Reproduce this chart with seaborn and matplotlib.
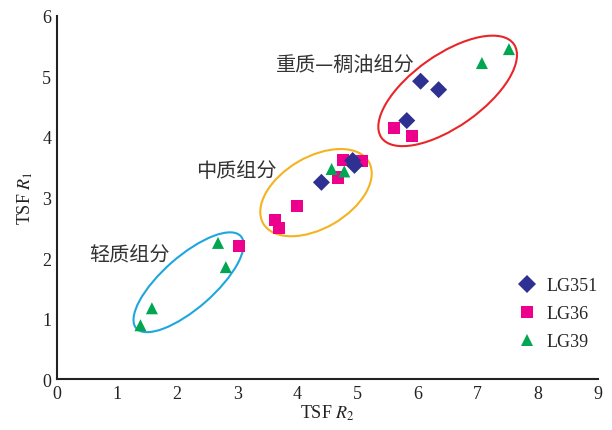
import numpy as np
import pandas as pd
import matplotlib
matplotlib.use("Agg")
import matplotlib.pyplot as plt
from matplotlib.patches import Ellipse
import seaborn as sns

# ---- data ----
series_names = ["LG351", "LG36", "LG39"]
lg351_x = [6.05, 6.35, 5.82, 4.40, 4.92, 4.95]
lg351_y = [4.92, 4.78, 4.27, 3.25, 3.61, 3.53]
lg36_x = [3.03, 4.76, 5.07, 4.67, 4.00, 3.62, 3.70, 5.61, 5.91]
lg36_y = [2.20, 3.62, 3.60, 3.33, 2.86, 2.63, 2.49, 4.15, 4.02]
lg39_x = [2.68, 2.81, 1.58, 1.39, 4.57, 4.78, 7.07, 7.52]
lg39_y = [2.25, 1.85, 1.17, 0.89, 3.47, 3.43, 5.22, 5.45]

group_labels = ["轻质组分", "中质组分", "重质—稠油组分"]
x_ticks = [0, 1, 2, 3, 4, 5, 6, 7, 8, 9]
y_ticks = [0, 1, 2, 3, 4, 5, 6]

# ---- frame (draw order: squares, diamonds, triangles) ----
df = pd.concat([
    pd.DataFrame({"x": lg36_x, "y": lg36_y, "s": "LG36"}),
    pd.DataFrame({"x": lg351_x, "y": lg351_y, "s": "LG351"}),
    pd.DataFrame({"x": lg39_x, "y": lg39_y, "s": "LG39"}),
], ignore_index=True)

sns.set_style("white")
plt.rcParams["font.family"] = ["Liberation Serif", "DejaVu Serif"]
plt.rcParams["mathtext.fontset"] = "stix"

fig = plt.figure(figsize=(6.12, 4.31), dpi=100)
ax = fig.add_axes([0.093, 0.118, 0.884, 0.843])

palette = {"LG351": "#2e3192", "LG36": "#ec008c", "LG39": "#00a651"}
markers = {"LG351": "D", "LG36": "s", "LG39": "^"}

sns.scatterplot(data=df, x="x", y="y", hue="s", style="s",
                hue_order=series_names, style_order=series_names,
                palette=palette, markers=markers, s=75,
                edgecolor="none", linewidth=0, ax=ax, zorder=3)

# ellipses grouping the fractions
ell_specs = [
    ((2.19, 1.60), 2.31, 0.86, 41, "#1ea6df"),
    ((4.31, 3.08), 2.03, 1.18, 30, "#f4b31f"),
    ((6.50, 4.76), 2.69, 1.19, 35, "#e8262a"),
]
for (cx, cy), w, h, ang, col in ell_specs:
    ax.add_patch(Ellipse((cx, cy), w, h, angle=ang, fill=False,
                         edgecolor=col, linewidth=1.5, zorder=2))

cjk = ["Noto Sans CJK SC", "DejaVu Sans"]
ax.text(1.20, 2.07, group_labels[0], family=cjk, fontsize=14.5,
        ha="center", va="center", color="#333333")
ax.text(2.98, 3.44, group_labels[1], family=cjk, fontsize=14.5,
        ha="center", va="center", color="#333333")
ax.text(4.79, 5.19, group_labels[2], family=cjk, fontsize=14.5,
        ha="center", va="center", color="#333333")

ax.set_xlim(0, 9)
ax.set_ylim(0, 6)
ax.set_xticks(x_ticks)
ax.set_yticks(y_ticks)
ax.set_xticklabels([str(t) for t in x_ticks])
ax.set_yticklabels([str(t) for t in y_ticks])
ax.tick_params(direction="in", length=6, width=1.3, labelsize=13,
               colors="#222222", pad=4)
for side in ["top", "right"]:
    ax.spines[side].set_visible(False)
for side in ["left", "bottom"]:
    ax.spines[side].set_linewidth(1.5)
    ax.spines[side].set_color("#222222")

ax.set_xlabel("TSF $R_2$", fontsize=13, labelpad=1, color="#222222")
ax.set_ylabel("TSF $R_1$", fontsize=13, labelpad=5, color="#222222")

handles, labels = ax.get_legend_handles_labels()
ax.legend(handles, labels, loc="upper left", bbox_to_anchor=(0.822, 0.30),
          frameon=False, fontsize=13, handletextpad=0.1, labelspacing=0.6,
          borderaxespad=0)

fig.savefig("out.png", dpi=100)
